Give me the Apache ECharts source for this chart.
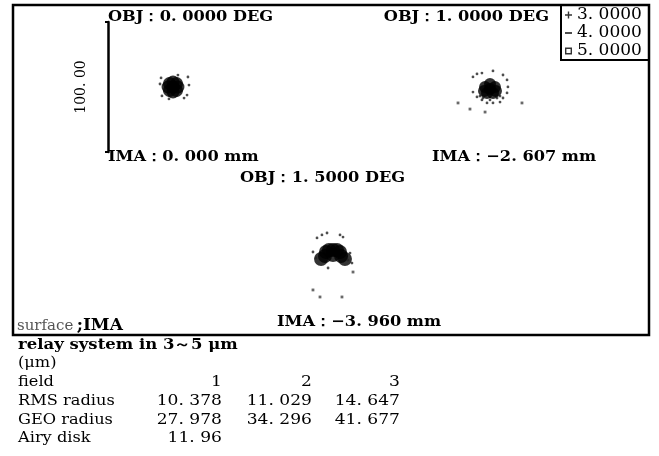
<!DOCTYPE html>
<html><head><meta charset="utf-8">
<script src="https://cdn.jsdelivr.net/npm/echarts@6/dist/echarts.min.js"></script>
<style>html,body{margin:0;padding:0;background:#fff}#c{width:659px;height:456px}</style>
</head><body><div id="c"></div>
<script>
// ---- data (spot offsets from centroid, in μm; y up) ----
const objLabels = ['OBJ：0. 0000 DEG', 'OBJ：1. 0000 DEG', 'OBJ：1. 5000 DEG'];
const imaLabels = ['IMA：0. 000 mm', 'IMA：−2. 607 mm', 'IMA：−3. 960 mm'];
const wavelengths = ['3.0000', '4.0000', '5.0000'];
const scaleBarLabel = '100. 00';
const scaleBarSize = 100; // μm

const core1 = [[0,0],[3.8,0],[-3.8,0],[0,-3.8],[0,3.8],[2.7,-2.7],[-2.7,-2.7],[2.7,2.7],[-2.7,2.7]];
const halo1 = [[11.5,7.7],[10.8,-6.2],[8.5,-8.5],[-8.5,-6.9],[-10,2.3],[3.8,9.2],[-3.1,-9.2],[12.3,1.5],[-9.2,7.0]];
const outer1 = [];

const core2 = [[0,3.1],[-3.8,0.8],[3.8,0.8],[-4.6,-2.3],[4.6,-2.3],[0,-0.8],[-2.3,-3.8],[2.3,-3.8]];
const halo2 = [[-13.1,8.5],[-10,10.8],[-6.2,11.5],[2.3,13.1],[10,10],[13.1,6.2],[13.8,0.8],[13.1,-3.8],[10,-7.7],[7.7,-10.8],[2.3,-11.5],[-2.3,-11.5],[-6.2,-9.2],[-10,-6.9],[-13.1,-3.1],[-7.7,-6.2],[-5.4,-7.7],[5.4,-7.7],[7.7,-6.2],[0,-9.2]];
const outer2 = [[-24.6,-11.5],[-15.4,-16.2],[-3.8,-18.5],[24.6,-11.5]];

const core3 = [[0,1.5],[-5.4,0],[5.4,0],[-6.2,-3.1],[6.2,-3.1],[0,-2.3],[-3.1,1.5],[3.1,1.5],[-9.2,-5.4],[9.2,-5.4]];
const halo3 = [[-12.3,10.8],[-8.5,13.1],[-4.6,14.6],[5.4,13.1],[7.7,11.5],[-15.4,0],[13.1,-0.8],[-3.8,-12.3],[14.6,-8.5],[-13.1,-4.6],[11.5,-6.2]];
const outer3 = [[15.4,-15.4],[-15.4,-29.2],[-10,-34.6],[6.9,-34.6]];

const tableTitle = 'relay system in 3～5 μm';
const tableUnit = '(μm)';
const fields = ['1', '2', '3'];
const rmsRadius = [10.378, 11.029, 14.647];
const geoRadius = [27.978, 34.296, 41.677];
const airyDisk = 11.96;

// ---- build ----
const chart = echarts.init(document.getElementById('c'));
const cores = [core1, core2, core3], halos = [halo1, halo2, halo3], outers = [outer1, outer2, outer3];
const gridPos = [[108, 22], [425, 23], [268, 187]];
const coreSize = [13, 12, 14];
const half = scaleBarSize / 2;
const shift = a => a.map(p => [p[0] + half, p[1] + half]);
const SERIF = '"DejaVu Serif"';

const grids = [], xAxes = [], yAxes = [], series = [];
gridPos.forEach((g, i) => {
  grids.push({left: g[0], top: g[1], width: 130, height: 130});
  xAxes.push({type: 'value', gridIndex: i, min: 0, max: scaleBarSize, show: false});
  yAxes.push(i === 0 ? {
    type: 'value', gridIndex: i, min: 0, max: scaleBarSize, interval: scaleBarSize,
    offset: 11, position: 'left',
    axisLine: {show: true, lineStyle: {color: '#000', width: 2.5}},
    axisTick: {show: true, length: 3, lineStyle: {color: '#000', width: 2}},
    axisLabel: {show: false}, splitLine: {show: false},
    name: scaleBarLabel, nameLocation: 'middle', nameRotate: 90, nameGap: 9,
    nameTextStyle: {fontFamily: 'DejaVu Serif', fontSize: 14, color: '#000'}
  } : {type: 'value', gridIndex: i, min: 0, max: scaleBarSize, show: false});
  series.push({name: wavelengths[0], type: 'scatter', xAxisIndex: i, yAxisIndex: i, data: shift(cores[i]),
    symbol: 'circle', symbolSize: coreSize[i], itemStyle: {color: '#000'}, silent: true});
  series.push({name: wavelengths[1], type: 'scatter', xAxisIndex: i, yAxisIndex: i, data: shift(halos[i]),
    symbol: 'circle', symbolSize: 2.8, itemStyle: {color: '#222'}, silent: true});
  series.push({name: wavelengths[2], type: 'scatter', xAxisIndex: i, yAxisIndex: i, data: shift(outers[i]),
    symbol: 'rect', symbolSize: 2.8, itemStyle: {color: '#444'}, silent: true});
});

const labFont = 'bold 15px ' + SERIF;
const tabFont = '15px ' + SERIF;
const T = (x, y, text, font, align, sx) => ({type: 'text', x, y, scaleX: sx || 1, silent: true,
  style: {text, font: font || labFont, fill: '#000', textAlign: align || 'left', textVerticalAlign: 'middle'}});
const fmt = v => String(v).replace('.', '. ');
const LS = 1.08, TS = 1.08, NS = 1.14;

const graphic = [
  {type: 'rect', shape: {x: 13, y: 5, width: 636, height: 330}, style: {fill: 'none', stroke: '#000', lineWidth: 2.5}, silent: true},
  {type: 'rect', shape: {x: 561, y: 5, width: 88, height: 55}, style: {fill: 'none', stroke: '#000', lineWidth: 2}, silent: true},
  T(108, 17, objLabels[0], null, 'left', LS), T(108, 157, imaLabels[0], null, 'left', LS),
  T(549, 17, objLabels[1], null, 'right', LS), T(432, 157, imaLabels[1], null, 'left', LS),
  T(240, 178, objLabels[2], null, 'left', LS), T(277, 322, imaLabels[2], null, 'left', LS),
  {type: 'text', x: 17, y: 326, silent: true, style: {
    text: '{s|surface} {b|;IMA}', textVerticalAlign: 'middle',
    rich: {s: {font: '15px ' + SERIF, fill: '#555'}, b: {font: 'bold 17px ' + SERIF, fill: '#000'}}}},
  T(18, 345, tableTitle, 'bold 15px ' + SERIF, 'left', 1.1),
  T(18, 363, tableUnit, tabFont, 'left', TS),
  T(18, 382, 'field', tabFont, 'left', TS),
  T(18, 401, 'RMS radius', tabFont, 'left', TS),
  T(18, 420, 'GEO radius', tabFont, 'left', TS),
  T(18, 438, 'Airy disk', tabFont, 'left', TS)
];
const colX = [222, 312, 400];
fields.forEach((f, i) => {
  graphic.push(T(colX[i], 382, f, tabFont, 'right', NS));
  graphic.push(T(colX[i], 401, fmt(rmsRadius[i].toFixed(3)), tabFont, 'right', NS));
  graphic.push(T(colX[i], 420, fmt(geoRadius[i].toFixed(3)), tabFont, 'right', NS));
});
graphic.push(T(colX[0], 438, fmt(airyDisk.toFixed(2)), tabFont, 'right', NS));

const plus = 'path://M4,0H6V10H4ZM0,4H10V6H0Z';
const dash = 'path://M1,4H9V6H1Z';
const box = 'path://M0,0H10V10H0ZM2,2V8H8V2Z';
chart.setOption({
  animation: false,
  backgroundColor: '#fff',
  grid: grids, xAxis: xAxes, yAxis: yAxes, series,
  legend: {orient: 'vertical', left: 565, top: 6, padding: 0, itemGap: 0, itemWidth: 7, itemHeight: 7, selectedMode: false,
    formatter: n => fmt(n),
    textStyle: {fontFamily: 'DejaVu Serif', fontSize: 17, lineHeight: 18, color: '#000', padding: [0, 0, 0, 0]},
    data: [{name: wavelengths[0], icon: plus, itemStyle: {color: '#000'}},
           {name: wavelengths[1], icon: dash, itemStyle: {color: '#000'}},
           {name: wavelengths[2], icon: box, itemStyle: {color: '#000'}}]},
  graphic
});
</script></body></html>
